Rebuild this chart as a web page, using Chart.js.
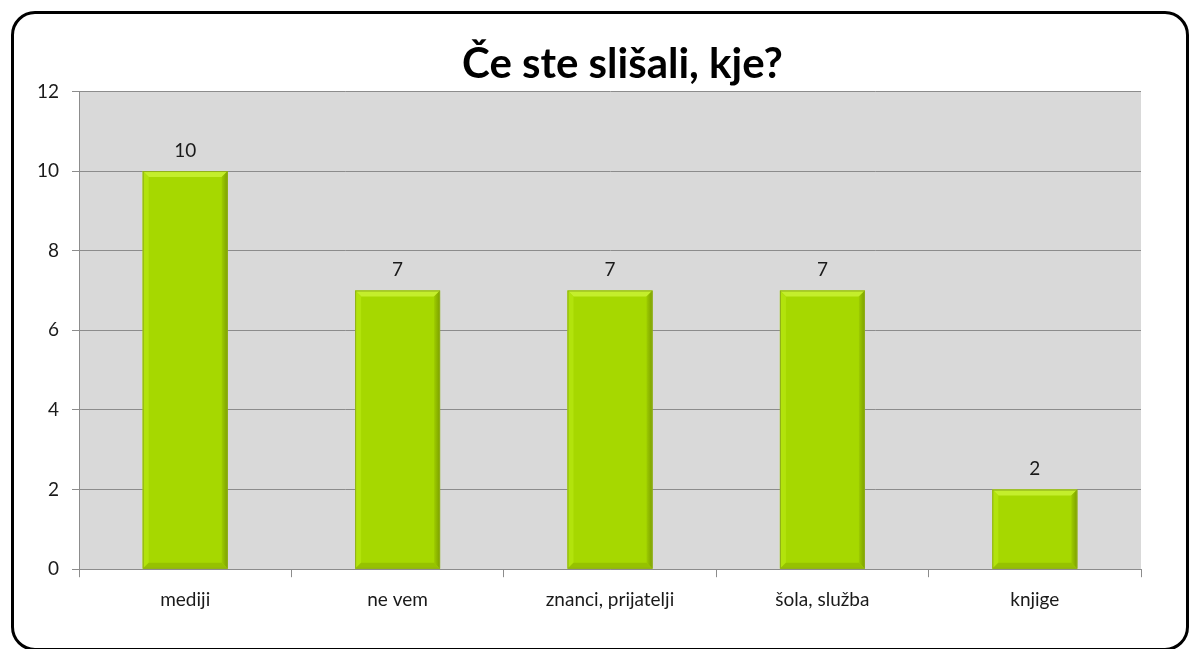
<!DOCTYPE html>
<html lang="sl">
<head>
    <meta charset="UTF-8" />
    <title>Če ste slišali, kje?</title>
    <script src="https://cdn.jsdelivr.net/npm/chart.js"></script>
    <style>
        html, body {
            margin: 0;
            padding: 0;
            background: #fff;
            overflow: hidden;
        }
        .frame {
            position: absolute;
            left: 11px;
            top: 11px;
            width: 1172px;
            height: 634px;
            border: 3px solid #000;
            border-radius: 24px;
        }
        .wrap {
            position: absolute;
            left: 0;
            top: 0;
            width: 1191px;
            height: 649px;
        }
    </style>
</head>
<body>
    <div class="frame"></div>
    <div class="wrap"><canvas id="chart" width="1191" height="649"></canvas></div>

    <script>
        const categories = ["mediji", "ne vem", "znanci, prijatelji", "šola, služba", "knjige"];
        const values = [10, 7, 7, 7, 2];
        const yTicks = [0, 2, 4, 6, 8, 10, 12];
        const chartTitle = "Če ste slišali, kje?";

        const fontFam = "Lato, 'Open Sans', sans-serif";

        // grey plot background, title nudged right like the original
        const plotBg = {
            id: "plotBg",
            afterLayout(chart) {
                const tb = chart.titleBlock;
                if (tb) {
                    tb.left += 42;
                    tb.right += 42;
                }
            },
            beforeDraw(chart) {
                const a = chart.chartArea;
                const ctx = chart.ctx;
                ctx.save();
                ctx.fillStyle = "#d9d9d9";
                ctx.fillRect(a.left, a.top, a.right - a.left, a.bottom - a.top);
                ctx.restore();
            }
        };

        // bevel look on bars + value labels
        const bevel = {
            id: "bevel",
            afterDatasetsDraw(chart) {
                const ctx = chart.ctx;
                const meta = chart.getDatasetMeta(0);
                meta.data.forEach((bar, i) => {
                    const w = bar.width;
                    const l = bar.x - w / 2, r = bar.x + w / 2;
                    const t = bar.y, b = bar.base;
                    const s = 6;
                    ctx.save();
                    // top
                    ctx.fillStyle = "#c4ee2c";
                    ctx.beginPath();
                    ctx.moveTo(l, t); ctx.lineTo(r, t); ctx.lineTo(r - s, t + s); ctx.lineTo(l + s, t + s);
                    ctx.fill();
                    // left
                    ctx.fillStyle = "#b2e30c";
                    ctx.beginPath();
                    ctx.moveTo(l, t); ctx.lineTo(l + s, t + s); ctx.lineTo(l + s, b - s); ctx.lineTo(l, b);
                    ctx.fill();
                    // right
                    const g = ctx.createLinearGradient(r - s, 0, r, 0);
                    g.addColorStop(0, "#9dcc00");
                    g.addColorStop(1, "#7c9f00");
                    ctx.fillStyle = g;
                    ctx.beginPath();
                    ctx.moveTo(r, t); ctx.lineTo(r - s, t + s); ctx.lineTo(r - s, b - s); ctx.lineTo(r, b);
                    ctx.fill();
                    // bottom
                    ctx.fillStyle = "#96c200";
                    ctx.beginPath();
                    ctx.moveTo(l, b); ctx.lineTo(l + s, b - s); ctx.lineTo(r - s, b - s); ctx.lineTo(r, b);
                    ctx.fill();
                    ctx.strokeStyle = "#8fae1a";
                    ctx.lineWidth = 1;
                    ctx.strokeRect(l + 0.5, t + 0.5, w - 1, b - t - 1);

                    ctx.fillStyle = "#1a1a1a";
                    ctx.font = "19px " + fontFam;
                    ctx.textAlign = "center";
                    ctx.textBaseline = "bottom";
                    ctx.fillText(String(values[i]), bar.x, t - 11);
                    ctx.restore();
                });
            }
        };

        new Chart(document.getElementById("chart").getContext("2d"), {
            type: "bar",
            data: {
                labels: categories,
                datasets: [{
                    data: values,
                    backgroundColor: "#a6d800",
                    borderWidth: 0,
                    barPercentage: 0.4,
                    categoryPercentage: 1
                }]
            },
            options: {
                responsive: false,
                animation: false,
                events: [],
                layout: {
                    padding: { left: 20, right: 50, top: 39, bottom: 27 }
                },
                plugins: {
                    legend: { display: false },
                    tooltip: { enabled: false },
                    title: {
                        display: true,
                        text: chartTitle,
                        color: "#000",
                        font: { family: fontFam, size: 42, weight: "bold" },
                        padding: { top: 0, bottom: 2 }
                    }
                },
                scales: {
                    x: {
                        grid: {
                            display: true,
                            offset: true,
                            drawOnChartArea: false,
                            color: "#8c8c8c",
                            tickLength: 8
                        },
                        border: { color: "#8c8c8c" },
                        ticks: {
                            color: "#1a1a1a",
                            font: { family: fontFam, size: 19 },
                            padding: 11
                        }
                    },
                    y: {
                        min: 0,
                        max: 12,
                        afterBuildTicks(scale) {
                            scale.ticks = yTicks.map(v => ({ value: v }));
                        },
                        afterFit(scale) {
                            scale.width = 59;
                        },
                        grid: {
                            color: "#8c8c8c",
                            tickLength: 7
                        },
                        border: { color: "#8c8c8c" },
                        ticks: {
                            color: "#1a1a1a",
                            font: { family: fontFam, size: 19 },
                            padding: 13
                        }
                    }
                }
            },
            plugins: [plotBg, bevel]
        });
    </script>
</body>
</html>
